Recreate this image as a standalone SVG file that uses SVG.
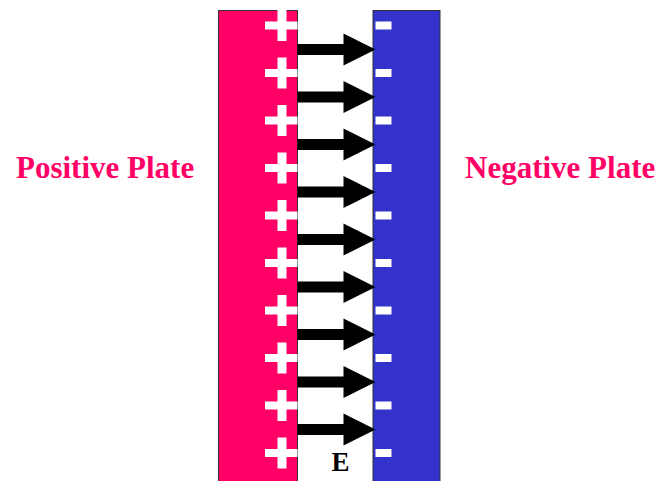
<svg xmlns="http://www.w3.org/2000/svg" width="664" height="481" viewBox="0 0 664 481">
<defs>
<style>
.lbl{font-family:"Liberation Serif","Times New Roman",serif;font-weight:bold;font-size:31px;fill:#FF0066}
.e{font-family:"Liberation Serif","Times New Roman",serif;font-weight:bold;font-size:27px;fill:#000}
.sign{fill:#fff}
.arrow{fill:#000}
</style>
<clipPath id="redclip"><rect x="218" y="10" width="79.5" height="480"/></clipPath>
<g id="plus"><rect x="265" y="-4" width="34" height="8"/><rect x="277.5" y="-15.5" width="9" height="31"/></g>
<rect id="minus" x="375.5" y="-4" width="16" height="8"/>
<path id="arr" d="M297.5,-5.5 H343.5 V-16 L375.5,0 L343.5,16 V5.5 H297.5 Z"/>
</defs>
<rect width="664" height="481" fill="#fff"/>
<g id="positive-plate">
<rect x="218.5" y="10.5" width="79" height="475" fill="#FF0066" stroke="#333" stroke-width="1"/>
<g class="sign" clip-path="url(#redclip)">
<use href="#plus" y="25.5"/><use href="#plus" y="73"/><use href="#plus" y="120.5"/><use href="#plus" y="168"/><use href="#plus" y="215.5"/><use href="#plus" y="263"/><use href="#plus" y="310.5"/><use href="#plus" y="358"/><use href="#plus" y="405.5"/><use href="#plus" y="453"/>
</g>
</g>
<g id="negative-plate">
<rect x="373" y="10.5" width="67" height="475" fill="#3333CC" stroke="#333" stroke-width="1"/>
<g class="sign">
<use href="#minus" y="25.5"/><use href="#minus" y="73"/><use href="#minus" y="120.5"/><use href="#minus" y="168"/><use href="#minus" y="215.5"/><use href="#minus" y="263"/><use href="#minus" y="310.5"/><use href="#minus" y="358"/><use href="#minus" y="405.5"/><use href="#minus" y="453"/>
</g>
</g>
<g id="connectors" class="arrow">
<use href="#arr" y="49.5"/><use href="#arr" y="97"/><use href="#arr" y="144.5"/><use href="#arr" y="192"/><use href="#arr" y="239.5"/><use href="#arr" y="287"/><use href="#arr" y="334.5"/><use href="#arr" y="382"/><use href="#arr" y="429.5"/>
</g>
<g id="label-positive"><text class="lbl" x="16" y="177.5">Positive Plate</text></g>
<g id="label-negative"><text class="lbl" x="465" y="177.5">Negative Plate</text></g>
<g id="label-e"><text class="e" x="340.5" y="470.5" text-anchor="middle">E</text></g>
</svg>
